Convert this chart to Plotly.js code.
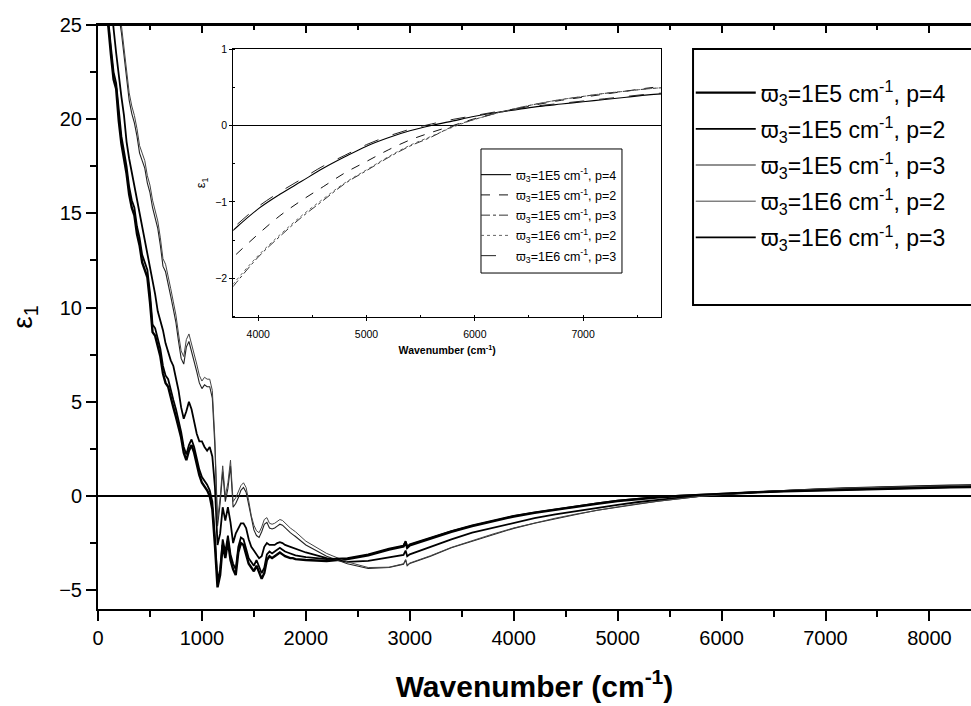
<!DOCTYPE html>
<html>
<head>
<meta charset="utf-8">
<script src="https://cdn.plot.ly/plotly-3.0.1.min.js"></script>
<style>html,body{margin:0;padding:0;background:#fff;}#chart{width:971px;height:706px;}</style>
</head>
<body>
<div id="chart"></div>
<script>
// Wavenumber grid (cm-1)
const wavenumber = [
  0,25,50,75,100,125,150,175,200,225,250,275,300,325,350,375,400,425,450,475,
  500,525,550,575,600,625,650,675,700,725,750,775,800,825,850,875,900,925,950,975,
  1000,1025,1050,1075,1100,1125,1150,1175,1200,1225,1250,1275,1300,1325,1350,1375,1400,1425,1450,1475,
  1500,1525,1550,1575,1600,1625,1650,1675,1700,1725,1750,1775,1800,1825,1850,1875,1900,
  2000,2200,2400,2600,2800,2940,2960,2975,3000,3200,3400,3600,3800,4000,4200,4400,4600,4800,
  5000,5200,5400,5600,5800,6000,6200,6400,6600,6800,7000,7200,7400,7600,7800,8000,8200,8400
];

// eps1, w3=1E5 cm-1, p=4
const eps_1E5_p4 = [
  32,29.5,27.6,25.6,24.9,23.4,22.1,21.6,19.9,18.7,17.9,17.1,16.0,15.3,14.9,13.9,13.3,12.4,12.0,11.6,
  10.3,8.7,8.5,7.9,7.4,6.5,6.0,5.8,5.2,4.7,4.2,3.7,3.1,2.3,1.9,2.4,2.7,2.3,1.6,1.1,
  0.7,0.5,0.3,0.0,-0.7,-2.6,-4.85,-4.2,-2.6,-3.3,-2.4,-3.4,-3.9,-4.2,-3.0,-2.5,-2.6,-3.1,-3.6,-3.8,
  -4.0,-3.7,-4.1,-4.4,-4.1,-3.4,-3.2,-3.3,-3.2,-3.1,-3.0,-3.1,-3.2,-3.25,-3.3,-3.3,-3.35,
  -3.4,-3.45,-3.35,-3.15,-2.85,-2.68,-2.45,-2.75,-2.62,-2.25,-1.9,-1.6,-1.33,-1.09,-0.9,-0.73,-0.56,-0.41,
  -0.27,-0.16,-0.07,0.0,0.06,0.12,0.17,0.21,0.25,0.28,0.31,0.34,0.37,0.40,0.42,0.44,0.46,0.48
];

// eps1, w3=1E5 cm-1, p=2
const eps_1E5_p2 = [
  36,33,31,29,27.5,26,24.8,23.5,22.2,21.2,20.2,18.8,17.9,17.2,16.4,15.6,15.0,14.2,13.5,12.9,
  12.2,11.4,10.7,9.8,9.3,8.8,8.1,7.6,7.2,6.9,6.3,5.6,4.7,4.1,4.5,5.0,4.6,3.9,3.3,2.9,
  2.9,2.6,2.4,2.6,2.1,0.5,-2.6,-2.0,-0.6,-1.3,-0.6,-1.4,-2.5,-2.0,-1.7,-1.45,-1.45,-1.7,-2.3,-2.7,
  -2.9,-3.1,-3.3,-3.2,-2.7,-2.5,-2.6,-2.6,-2.6,-2.5,-2.45,-2.5,-2.6,-2.65,-2.7,-2.75,-2.8,
  -3.0,-3.3,-3.5,-3.45,-3.25,-3.13,-2.9,-3.2,-3.1,-2.7,-2.3,-1.95,-1.68,-1.42,-1.18,-0.98,-0.8,-0.62,
  -0.47,-0.32,-0.19,-0.09,0.0,0.09,0.16,0.22,0.28,0.33,0.37,0.41,0.45,0.49,0.52,0.54,0.56,0.58
];

// eps1, w3=1E5 cm-1, p=3
const eps_1E5_p3 = [
  40,37,35,33,31,29.5,28,26.8,25.5,24.6,23.5,22.4,21.0,20.3,19.8,19.1,18.2,17.8,17.4,16.6,
  16.1,15.3,14.8,14.2,13.3,12.2,11.9,11.3,10.6,9.9,9.2,8.2,7.3,7.0,7.9,8.2,7.7,7.2,6.6,6.0,
  5.7,5.9,5.8,5.8,5.2,2.6,-1.6,-0.4,1.3,-0.3,0.4,1.6,-0.6,-0.4,-0.1,0.3,0.45,0.2,-0.5,-1.3,
  -1.8,-2.1,-2.2,-1.9,-1.5,-1.4,-1.7,-1.75,-1.7,-1.6,-1.5,-1.55,-1.7,-1.85,-1.95,-2.05,-2.15,
  -2.6,-3.2,-3.6,-3.85,-3.8,-3.62,-3.4,-3.7,-3.58,-3.2,-2.75,-2.4,-2.05,-1.72,-1.45,-1.2,-0.98,-0.76,
  -0.59,-0.42,-0.27,-0.15,-0.01,0.08,0.16,0.23,0.29,0.34,0.38,0.42,0.45,0.48,0.50,0.52,0.54,0.56
];

// eps1, w3=1E6 cm-1, p=2
const eps_1E6_p2 = [
  40.4,37.4,35.4,33.4,31.4,29.9,28.4,27.2,25.9,25.0,23.9,22.8,21.4,20.7,20.2,19.5,18.6,18.2,17.8,17.0,
  16.5,15.7,15.2,14.6,13.7,12.6,12.3,11.7,11.0,10.3,9.6,8.6,7.7,7.4,8.3,8.6,8.1,7.6,7.0,6.4,
  6.1,6.3,6.2,6.2,5.6,3.0,-1.3,-0.1,1.6,0.0,0.7,1.9,-0.3,-0.1,0.2,0.55,0.7,0.45,-0.25,-1.05,
  -1.55,-1.85,-1.95,-1.65,-1.25,-1.15,-1.45,-1.5,-1.45,-1.35,-1.25,-1.3,-1.45,-1.6,-1.7,-1.8,-1.9,
  -2.4,-3.05,-3.5,-3.8,-3.78,-3.6,-3.38,-3.68,-3.56,-3.17,-2.73,-2.37,-2.02,-1.7,-1.43,-1.18,-0.96,-0.75,
  -0.58,-0.41,-0.26,-0.14,-0.02,0.08,0.16,0.23,0.29,0.34,0.38,0.42,0.45,0.48,0.50,0.52,0.54,0.56
];

// eps1, w3=1E6 cm-1, p=3
const eps_1E6_p3 = [
  32.3,29.8,27.9,26.0,25.2,23.8,22.5,21.9,20.3,19.1,18.3,17.5,16.4,15.7,15.3,14.3,13.7,12.8,12.4,12.0,
  10.8,9.1,8.9,8.3,7.8,6.9,6.4,6.2,5.6,5.1,4.6,4.0,3.4,2.6,2.2,2.7,3.0,2.6,1.9,1.4,
  1.0,0.8,0.6,0.3,-0.3,-2.2,-4.5,-3.9,-2.3,-3.0,-2.1,-3.1,-3.6,-3.9,-2.7,-2.2,-2.3,-2.8,-3.3,-3.5,
  -3.7,-3.4,-3.8,-4.1,-3.8,-3.1,-2.95,-3.05,-2.95,-2.85,-2.75,-2.85,-2.95,-3.0,-3.05,-3.1,-3.15,
  -3.25,-3.35,-3.3,-3.1,-2.8,-2.63,-2.4,-2.7,-2.57,-2.2,-1.86,-1.56,-1.30,-1.06,-0.87,-0.70,-0.53,-0.39,
  -0.25,-0.14,-0.05,0.02,0.08,0.13,0.18,0.22,0.26,0.29,0.32,0.35,0.38,0.41,0.43,0.45,0.47,0.49
];

const seriesNames = [
  'ϖ<sub>3</sub>=1E5 cm<sup>-1</sup>, p=4',
  'ϖ<sub>3</sub>=1E5 cm<sup>-1</sup>, p=2',
  'ϖ<sub>3</sub>=1E5 cm<sup>-1</sup>, p=3',
  'ϖ<sub>3</sub>=1E6 cm<sup>-1</sup>, p=2',
  'ϖ<sub>3</sub>=1E6 cm<sup>-1</sup>, p=3'
];
const seriesValues = [eps_1E5_p4, eps_1E5_p2, eps_1E5_p3, eps_1E6_p2, eps_1E6_p3];

const mainStyle = [
  {color:'#000', width:2.4},
  {color:'#000', width:1.8},
  {color:'#222', width:1.1},
  {color:'#444', width:1.0},
  {color:'#000', width:1.8}
];
const insetStyle = [
  {color:'#000', width:1.1, dash:'solid'},
  {color:'#111', width:1.0, dash:'dash'},
  {color:'#333', width:1.0, dash:'dashdot'},
  {color:'#555', width:0.9, dash:'dot'},
  {color:'#222', width:1.0, dash:'longdash'}
];

const traces = [];
seriesValues.forEach((vals, i) => {
  traces.push({
    x: wavenumber, y: vals, type:'scatter', mode:'lines', name: seriesNames[i],
    line: mainStyle[i], xaxis:'x', yaxis:'y', legend:'legend', legendgroup:'m'+i
  });
});
seriesValues.forEach((vals, i) => {
  traces.push({
    x: wavenumber, y: vals, type:'scatter', mode:'lines', name: seriesNames[i],
    line: Object.assign({shape:'spline'}, insetStyle[i]), xaxis:'x2', yaxis:'y2', legend:'legend2', legendgroup:'i'+i
  });
});
// invisible copy on the top axis so that its inward ticks are drawn
traces.push({x: wavenumber, y: eps_1E5_p4, type:'scatter', mode:'lines', xaxis:'x3', yaxis:'y',
  line:{width:0}, opacity:0, showlegend:false});

const F = 'Arial, "Liberation Sans", sans-serif';
const layout = {
  width: 971, height: 706,
  margin: {l:98, r:0, t:25, b:97},
  paper_bgcolor:'#fff', plot_bgcolor:'#fff',
  font: {family: F, color:'#000'},
  showlegend: true,
  xaxis: {
    domain:[0,1], anchor:'y', range:[0,8400], tick0:0, dtick:1000,
    ticks:'outside', ticklen:10, tickwidth:2, tickcolor:'#000',
    minor:{dtick:500, ticks:'outside', ticklen:6, tickwidth:2, tickcolor:'#000'},
    showline:true, linewidth:2, linecolor:'#000', mirror:true, showgrid:false, zeroline:false,
    tickfont:{family:F, size:20},
    title:{text:'Wavenumber (cm<sup>-1</sup>)', font:{family:F, size:30, weight:'bold'}, standoff:28}
  },
  xaxis3: {
    overlaying:'x', anchor:'y', side:'top', range:[0,8400], tick0:0, dtick:1000,
    ticks:'inside', ticklen:8, tickwidth:2, tickcolor:'#000',
    minor:{dtick:500, ticks:'inside', ticklen:5, tickwidth:2, tickcolor:'#000'},
    showline:true, linewidth:2, linecolor:'#000', showgrid:false, zeroline:false, showticklabels:false
  },
  yaxis: {
    domain:[0,1], anchor:'x', range:[-6,25], tick0:0, dtick:5,
    ticks:'outside', ticklen:10, tickwidth:2, tickcolor:'#000',
    minor:{dtick:2.5, ticks:'outside', ticklen:6, tickwidth:2, tickcolor:'#000'},
    showline:true, linewidth:2, linecolor:'#000', showgrid:false,
    zeroline:true, zerolinecolor:'#000', zerolinewidth:2.5,
    tickfont:{family:F, size:20},
    title:{text:'ε<sub>1</sub>', font:{family:F, size:28}, standoff:18}
  },
  xaxis2: {
    domain:[0.155,0.645], anchor:'y2', range:[3770,7720], tick0:0, dtick:1000,
    ticks:'outside', ticklen:3, tickwidth:1, tickcolor:'#000',
    minor:{dtick:500, ticks:'inside', ticklen:2, tickwidth:1, tickcolor:'#000'},
    showline:true, linewidth:1, linecolor:'#000', mirror:true, showgrid:false, zeroline:false,
    tickfont:{family:F, size:10.5}, ticklabelstandoff:5,
    title:{text:'Wavenumber (cm<sup>-1</sup>)', font:{family:F, size:10.5, weight:'bold'}, standoff:7}
  },
  yaxis2: {
    domain:[0.5005,0.9589], anchor:'x2', range:[-2.5,1], tick0:0, dtick:1,
    ticks:'outside', ticklen:3, tickwidth:1, tickcolor:'#000',
    minor:{dtick:0.5, ticks:'inside', ticklen:2, tickwidth:1, tickcolor:'#000'},
    showline:true, linewidth:1, linecolor:'#000', mirror:true, showgrid:false,
    zeroline:true, zerolinecolor:'#000', zerolinewidth:1,
    tickfont:{family:F, size:10.5},
    title:{text:'ε<sub>1</sub>', font:{family:F, size:13}, standoff:6}
  },
  legend: {
    x:0.679, y:0.921, xanchor:'left', yanchor:'top',
    bgcolor:'rgba(0,0,0,0)', borderwidth:0, itemwidth:60,
    font:{family:F, size:23}, tracegroupgap:3.3
  },
  legend2: {
    x:0.4330, y:0.7688, xanchor:'left', yanchor:'top',
    bgcolor:'rgba(0,0,0,0)', borderwidth:0, itemwidth:30,
    font:{family:F, size:12.5}, tracegroupgap:1
  },
  shapes: [
    {type:'rect', xref:'paper', yref:'paper', x0:0.6816, x1:1.05, y0:0.5205, y1:0.9589,
     line:{color:'#000', width:2}, fillcolor:'#fff', layer:'below'},
    {type:'rect', xref:'paper', yref:'paper', x0:0.4387, x1:0.6002, y0:0.5753, y1:0.7877,
     line:{color:'#000', width:1}, fillcolor:'rgba(0,0,0,0)', layer:'above'},
    {type:'line', xref:'paper', yref:'paper', x0:0, x1:1, y0:1, y1:1,
     line:{color:'#000', width:2}, layer:'above'}
  ]
};

Plotly.newPlot('chart', traces, layout, {displayModeBar:false, staticPlot:true});
</script>
</body>
</html>
